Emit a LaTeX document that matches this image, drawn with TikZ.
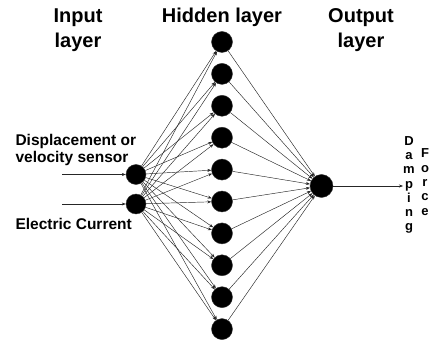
\documentclass[tikz,border=0pt]{standalone}
\usepackage{fontspec}
\setmainfont{Liberation Sans}
\usetikzlibrary{arrows.meta}
\begin{document}
\begin{tikzpicture}[x=1pt,y=-1pt,
  neuron/.style={circle,fill=black,draw=black!80,line width=0.4pt,inner sep=0pt,minimum size=#1},
  neuron/.default=20pt,
  link/.style={draw=black!85,line width=0.45pt,-{Stealth[length=4pt,width=3pt]}},
  title/.style={font=\fontsize{20}{25}\selectfont\bfseries,align=center},
  inlabel/.style={font=\fontsize{15.5}{17.5}\selectfont\bfseries,align=left,anchor=west},
  vlabel/.style={font=\fontsize{13}{14.3}\selectfont\bfseries,align=center}]
  \useasboundingbox (0,0) rectangle (431,347);

  % layer titles
  \node[title] (tin) at (78,30) {Input\\layer};
  \node[title] (thid) at (222,17) {Hidden layer};
  \node[title] (tout) at (361,30) {Output\\layer};

  % input neurons
  \node[neuron=20pt] (in1) at (136,174.5) {};
  \node[neuron=20pt] (in2) at (136,204) {};

  % hidden neurons
  \foreach \i in {0,...,9} {
    \node[neuron=21pt] (h\i) at (222,{42+31.9*\i}) {};
  }

  % output neuron
  \node[neuron=23pt] (out) at (321.5,186) {};

  % input signals
  \coordinate (s1) at (62,174.5);
  \coordinate (s2) at (62,204);
  \draw[link] (s1) -- (in1);
  \draw[link] (s2) -- (in2);
  \node[inlabel] (l1) at (12,150) {Displacement or\\velocity sensor};
  \node[inlabel] (l2) at (12,224) {Electric Current};

  % connections
  \foreach \i in {0,...,9} {
    \draw[link] (in1) -- (h\i);
    \draw[link] (in2) -- (h\i);
    \draw[link] (h\i) -- (out);
  }

  % output signal
  \coordinate (o) at (403,186);
  \draw[link] (out) -- (o);
  \node[vlabel] (damp) at (409,185) {D\\a\\m\\p\\i\\n\\g};
  \node[vlabel] (force) at (425,182) {F\\o\\r\\c\\e};
\end{tikzpicture}
\end{document}
